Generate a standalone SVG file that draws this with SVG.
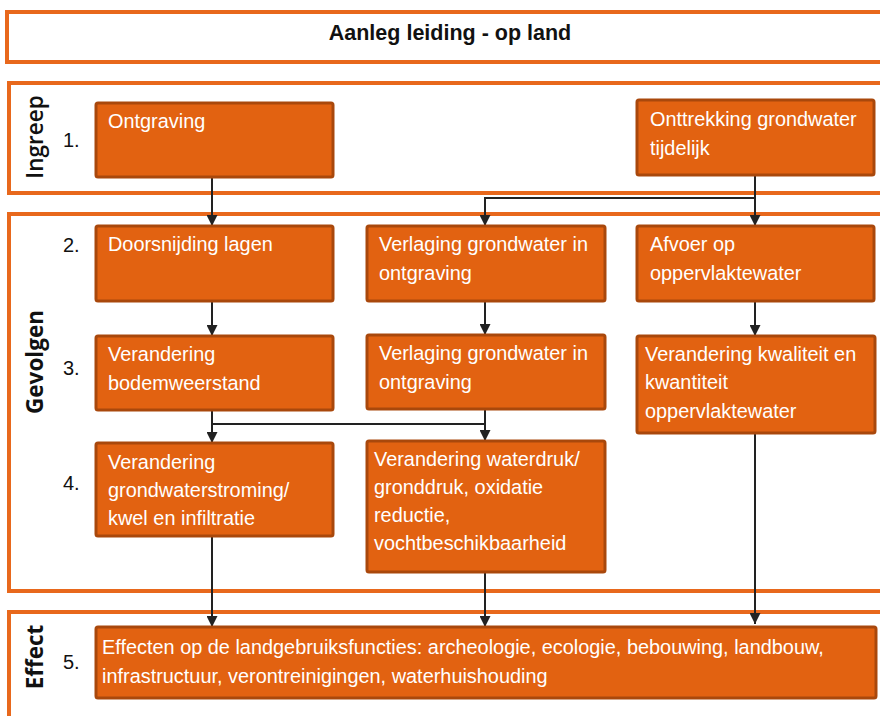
<svg xmlns="http://www.w3.org/2000/svg" width="880" height="716" viewBox="0 0 880 716">
<style>
.frame{fill:#fff;stroke:#E8681C;stroke-width:4}
.box{fill:#E26211;stroke:#A9480C;stroke-width:3}
.bt{font-family:"Liberation Sans",Arial,sans-serif;font-size:19.9px;fill:#fff}
.num{font-family:"Liberation Sans",Arial,sans-serif;font-size:20px;fill:#111}
.side{font-family:"Open Sans","Liberation Sans",sans-serif;font-size:22.5px;font-weight:700;fill:#111}
.title{font-family:"Liberation Sans",Arial,sans-serif;font-size:21.5px;font-weight:700;fill:#111}
.con{fill:none;stroke:#222;stroke-width:2}
</style>
<defs>
<marker id="ah" viewBox="0 0 10 10" refX="10" refY="5" markerWidth="11" markerHeight="11" markerUnits="userSpaceOnUse" orient="auto">
<path d="M0,0 L10,5 L0,10 Z" fill="#222"/>
</marker>
</defs>
<rect width="880" height="716" fill="#fff"/>
<g id="frames">
<rect class="frame" x="7" y="12" width="900" height="50"/>
<rect class="frame" x="9" y="83" width="900" height="110"/>
<rect class="frame" x="9" y="214" width="900" height="377"/>
<rect class="frame" x="9" y="612" width="900" height="200"/>
</g>
<g id="title"><text class="title" x="450" y="40" text-anchor="middle">Aanleg leiding - op land</text></g>
<g id="labels">
<text class="side" style="font-weight:600" transform="translate(43,137) rotate(-90)" text-anchor="middle">Ingreep</text>
<text class="side" transform="translate(43,362) rotate(-90)" text-anchor="middle">Gevolgen</text>
<text class="side" transform="translate(43,657) rotate(-90)" text-anchor="middle">Effect</text>
<text class="num" x="63" y="147">1.</text>
<text class="num" x="63" y="252">2.</text>
<text class="num" x="63" y="375">3.</text>
<text class="num" x="63" y="490">4.</text>
<text class="num" x="63" y="669">5.</text>
</g>
<g id="connectors">
<path class="con" d="M212,177 V226" marker-end="url(#ah)"/>
<path class="con" d="M755,175 V226" marker-end="url(#ah)"/>
<path class="con" d="M755,198 H485 V226" marker-end="url(#ah)"/>
<path class="con" d="M212,301 V336" marker-end="url(#ah)"/>
<path class="con" d="M485,301 V335" marker-end="url(#ah)"/>
<path class="con" d="M755,301 V336" marker-end="url(#ah)"/>
<path class="con" d="M212,410 V443" marker-end="url(#ah)"/>
<path class="con" d="M485,409 V441" marker-end="url(#ah)"/>
<path class="con" d="M212,424 H485"/>
<path class="con" d="M212,536 V627" marker-end="url(#ah)"/>
<path class="con" d="M485,572 V627" marker-end="url(#ah)"/>
<path class="con" d="M755,433 V624" marker-end="url(#ah)"/>
</g>
<g id="n-ontgraving"><rect class="box" x="96" y="103" width="237" height="74" rx="2"/><text class="bt" x="108" y="128">Ontgraving</text></g>
<g id="n-onttrekking"><rect class="box" x="637" y="100" width="237" height="75" rx="2"/><text class="bt" x="650" y="126">Onttrekking grondwater</text><text class="bt" x="650" y="155">tijdelijk</text></g>
<g id="n-doorsnijding"><rect class="box" x="96" y="226" width="237" height="75" rx="2"/><text class="bt" x="108" y="251">Doorsnijding lagen</text></g>
<g id="n-verlaging1"><rect class="box" x="367" y="226" width="238" height="75" rx="2"/><text class="bt" x="379" y="251">Verlaging grondwater in</text><text class="bt" x="379" y="280">ontgraving</text></g>
<g id="n-afvoer"><rect class="box" x="637" y="226" width="237" height="75" rx="2"/><text class="bt" x="650" y="251">Afvoer op</text><text class="bt" x="650" y="280">oppervlaktewater</text></g>
<g id="n-bodemweerstand"><rect class="box" x="96" y="336" width="237" height="74" rx="2"/><text class="bt" x="108" y="361">Verandering</text><text class="bt" x="108" y="390">bodemweerstand</text></g>
<g id="n-verlaging2"><rect class="box" x="367" y="335" width="238" height="74" rx="2"/><text class="bt" x="379" y="360">Verlaging grondwater in</text><text class="bt" x="379" y="389">ontgraving</text></g>
<g id="n-kwaliteit"><rect class="box" x="637" y="336" width="238" height="97" rx="2"/><text class="bt" x="645" y="361">Verandering kwaliteit en</text><text class="bt" x="645" y="389">kwantiteit</text><text class="bt" x="645" y="418">oppervlaktewater</text></g>
<g id="n-grondwaterstroming"><rect class="box" x="96" y="443" width="237" height="93" rx="2"/><text class="bt" x="108" y="469">Verandering</text><text class="bt" x="108" y="497">grondwaterstroming/</text><text class="bt" x="108" y="525">kwel en infiltratie</text></g>
<g id="n-waterdruk"><rect class="box" x="367" y="441" width="238" height="131" rx="2"/><text class="bt" x="374" y="466">Verandering waterdruk/</text><text class="bt" x="374" y="494">gronddruk, oxidatie</text><text class="bt" x="374" y="522">reductie,</text><text class="bt" x="374" y="550">vochtbeschikbaarheid</text></g>
<g id="n-effect"><rect class="box" x="96" y="627" width="780" height="71" rx="2"/><text class="bt" x="102" y="654">Effecten op de landgebruiksfuncties: archeologie, ecologie, bebouwing, landbouw,</text><text class="bt" x="102" y="683">infrastructuur, verontreinigingen, waterhuishouding</text></g>
</svg>
